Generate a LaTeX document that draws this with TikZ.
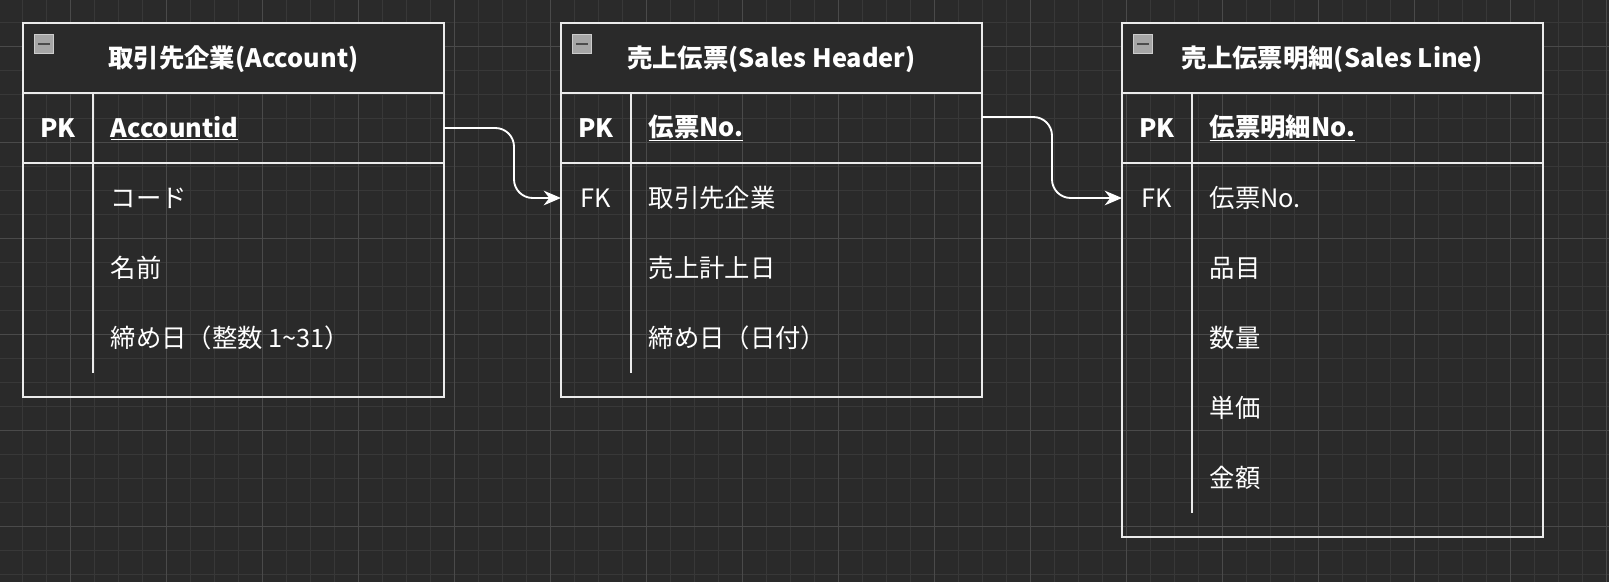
\documentclass[tikz,border=0pt]{standalone}
\usepackage{fontspec}
\setmainfont{Noto Sans CJK JP}
\usetikzlibrary{arrows.meta}
\definecolor{bg}{HTML}{2A2A2A}
\definecolor{gmin}{HTML}{383838}
\definecolor{gmaj}{HTML}{4A4A4A}
\tikzset{
  tline/.style={draw=white!92!black, line width=1.6pt},
  hdr/.style={font=\fontsize{19}{21}\selectfont\bfseries, text=white},
  key/.style={font=\fontsize{19}{21}\selectfont\bfseries, text=white},
  fld/.style={font=\fontsize{19}{21}\selectfont, text=white, anchor=west},
  conn/.style={draw=white, line width=1.4pt, -{Stealth[length=13pt,width=11pt]}, rounded corners=14pt},
  icon/.style={fill=gray!70, draw=gray!40, line width=0.8pt, minimum size=14pt, inner sep=0pt}
}
\begin{document}
\begin{tikzpicture}[x=0.75pt,y=-0.75pt]
\fill[bg] (0,0) rectangle (1609,582);
\useasboundingbox (0,0) rectangle (1609,582);
\foreach \i in {0,...,67} {\draw[gmin,line width=0.6pt] (\i*24-2,0) -- (\i*24-2,582);}
\foreach \i in {0,...,24} {\draw[gmin,line width=0.6pt] (0,\i*24-2) -- (1609,\i*24-2);}
\foreach \i in {0,...,17} {\draw[gmaj,line width=0.6pt] (\i*96+70,0) -- (\i*96+70,582);}
\foreach \i in {0,...,6} {\draw[gmaj,line width=0.6pt] (0,\i*96+46) -- (1609,\i*96+46);}
\foreach \x/\h/\vl/\name in {23/397/373/a,561/397/373/b,1122/537/513/c}{
  \fill[bg] (\x,23) rectangle (\x+421,93);
  \draw[tline] (\x,23) rectangle (\x+421,\h);
  \draw[tline] (\x,93) -- (\x+421,93);
  \draw[tline] (\x,163) -- (\x+421,163);
  \draw[tline] (\x+70,93) -- (\x+70,\vl);
  \node[icon] at (\x+21,44) {};
  \draw[black!70,line width=1.2pt] (\x+15,44) -- (\x+27,44);
  \coordinate (\name) at (\x,0);
}
\node[hdr] (ta) at (233.5,59) {取引先企業(Account)};
\node[hdr] (tb) at (771.5,59) {売上伝票(Sales Header)};
\node[hdr] (tc) at (1332.5,59) {売上伝票明細(Sales Line)};
\node[key] (apk) at (58,128) {PK};
\node[fld,font=\fontsize{19}{21}\selectfont\bfseries] (aid) at (106,128) {\underline{Accountid}};
\node[fld] (a1) at (106,198) {コード};
\node[fld] (a2) at (106,268) {名前};
\node[fld] (a3) at (106,338) {締め日（整数 1\textasciitilde31）};
\node[key] (bpk) at (596,128) {PK};
\node[fld,font=\fontsize{19}{21}\selectfont\bfseries] (bid) at (644,128) {\underline{伝票No.}};
\node[text=white,font=\fontsize{19}{21}\selectfont] (bfk) at (596,198) {FK};
\node[fld] (b1) at (644,198) {取引先企業};
\node[fld] (b2) at (644,268) {売上計上日};
\node[fld] (b3) at (644,338) {締め日（日付）};
\node[key] (cpk) at (1157,128) {PK};
\node[fld,font=\fontsize{19}{21}\selectfont\bfseries] (cid) at (1205,128) {\underline{伝票明細No.}};
\node[text=white,font=\fontsize{19}{21}\selectfont] (cfk) at (1157,198) {FK};
\node[fld] (c1) at (1205,198) {伝票No.};
\node[fld] (c2) at (1205,268) {品目};
\node[fld] (c3) at (1205,338) {数量};
\node[fld] (c4) at (1205,408) {単価};
\node[fld] (c5) at (1205,478) {金額};
\coordinate (s1) at (444,128);
\coordinate (e1) at (561,198);
\coordinate (s2) at (982,117);
\coordinate (e2) at (1122,198);
\draw[conn] (s1) -- (514,128) -- (514,198) -- (e1);
\draw[conn] (s2) -- (1052,117) -- (1052,198) -- (e2);
\end{tikzpicture}
\end{document}
